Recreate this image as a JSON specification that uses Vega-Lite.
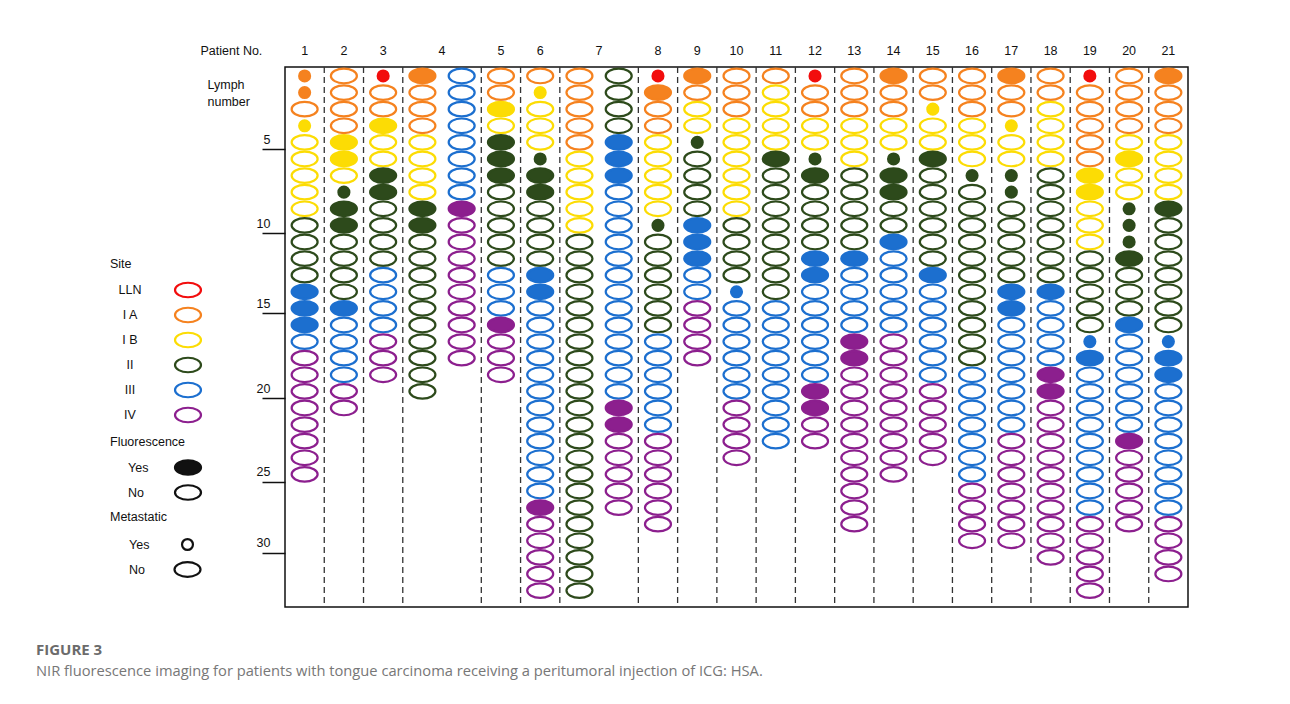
{
"$schema": "https://vega.github.io/schema/vega-lite/v6.json",
"width": 903,
"height": 540,
"autosize": {"type": "none"},
"padding": {"left": 285, "top": 67, "right": 102, "bottom": 97},
"background": "white",
"config": {"view": {"stroke": "#111", "strokeWidth": 1.5}, "font": "Liberation Sans", "axis": {"grid": false}},
"title": {"text": "FIGURE 3", "subtitle": "NIR fluorescence imaging for patients with tongue carcinoma receiving a peritumoral injection of ICG: HSA.", "orient": "bottom", "anchor": "start", "frame": "group", "dx": -249, "offset": 35, "font": "Open Sans", "fontSize": 15, "fontWeight": "bold", "color": "#6b6b6b", "subtitleFont": "Open Sans", "subtitleFontSize": 14.7, "subtitleColor": "#777777", "subtitlePadding": 6},
"datasets": {
"seps": [{"col":"2"},{"col":"3"},{"col":"4a"},{"col":"5"},{"col":"6"},{"col":"7a"},{"col":"8"},{"col":"9"},{"col":"10"},{"col":"11"},{"col":"12"},{"col":"13"},{"col":"14"},{"col":"15"},{"col":"16"},{"col":"17"},{"col":"18"},{"col":"19"},{"col":"20"},{"col":"21"}],
"nodes": [
{"col":"1","n":1,"site":"I A","fl":"Yes","met":"Y"},
{"col":"1","n":2,"site":"I A","fl":"Yes","met":"Y"},
{"col":"1","n":3,"site":"I A","fl":"No","met":"N"},
{"col":"1","n":4,"site":"I B","fl":"Yes","met":"Y"},
{"col":"1","n":5,"site":"I B","fl":"No","met":"N"},
{"col":"1","n":6,"site":"I B","fl":"No","met":"N"},
{"col":"1","n":7,"site":"I B","fl":"No","met":"N"},
{"col":"1","n":8,"site":"I B","fl":"No","met":"N"},
{"col":"1","n":9,"site":"I B","fl":"No","met":"N"},
{"col":"1","n":10,"site":"II","fl":"No","met":"N"},
{"col":"1","n":11,"site":"II","fl":"No","met":"N"},
{"col":"1","n":12,"site":"II","fl":"No","met":"N"},
{"col":"1","n":13,"site":"II","fl":"No","met":"N"},
{"col":"1","n":14,"site":"III","fl":"Yes","met":"N"},
{"col":"1","n":15,"site":"III","fl":"Yes","met":"N"},
{"col":"1","n":16,"site":"III","fl":"Yes","met":"N"},
{"col":"1","n":17,"site":"III","fl":"No","met":"N"},
{"col":"1","n":18,"site":"IV","fl":"No","met":"N"},
{"col":"1","n":19,"site":"IV","fl":"No","met":"N"},
{"col":"1","n":20,"site":"IV","fl":"No","met":"N"},
{"col":"1","n":21,"site":"IV","fl":"No","met":"N"},
{"col":"1","n":22,"site":"IV","fl":"No","met":"N"},
{"col":"1","n":23,"site":"IV","fl":"No","met":"N"},
{"col":"1","n":24,"site":"IV","fl":"No","met":"N"},
{"col":"1","n":25,"site":"IV","fl":"No","met":"N"},
{"col":"2","n":1,"site":"I A","fl":"No","met":"N"},
{"col":"2","n":2,"site":"I A","fl":"No","met":"N"},
{"col":"2","n":3,"site":"I A","fl":"No","met":"N"},
{"col":"2","n":4,"site":"I A","fl":"No","met":"N"},
{"col":"2","n":5,"site":"I B","fl":"Yes","met":"N"},
{"col":"2","n":6,"site":"I B","fl":"Yes","met":"N"},
{"col":"2","n":7,"site":"I B","fl":"No","met":"N"},
{"col":"2","n":8,"site":"II","fl":"Yes","met":"Y"},
{"col":"2","n":9,"site":"II","fl":"Yes","met":"N"},
{"col":"2","n":10,"site":"II","fl":"Yes","met":"N"},
{"col":"2","n":11,"site":"II","fl":"No","met":"N"},
{"col":"2","n":12,"site":"II","fl":"No","met":"N"},
{"col":"2","n":13,"site":"II","fl":"No","met":"N"},
{"col":"2","n":14,"site":"II","fl":"No","met":"N"},
{"col":"2","n":15,"site":"III","fl":"Yes","met":"N"},
{"col":"2","n":16,"site":"III","fl":"No","met":"N"},
{"col":"2","n":17,"site":"III","fl":"No","met":"N"},
{"col":"2","n":18,"site":"III","fl":"No","met":"N"},
{"col":"2","n":19,"site":"III","fl":"No","met":"N"},
{"col":"2","n":20,"site":"IV","fl":"No","met":"N"},
{"col":"2","n":21,"site":"IV","fl":"No","met":"N"},
{"col":"3","n":1,"site":"LLN","fl":"Yes","met":"Y"},
{"col":"3","n":2,"site":"I A","fl":"No","met":"N"},
{"col":"3","n":3,"site":"I A","fl":"No","met":"N"},
{"col":"3","n":4,"site":"I B","fl":"Yes","met":"N"},
{"col":"3","n":5,"site":"I B","fl":"No","met":"N"},
{"col":"3","n":6,"site":"I B","fl":"No","met":"N"},
{"col":"3","n":7,"site":"II","fl":"Yes","met":"N"},
{"col":"3","n":8,"site":"II","fl":"Yes","met":"N"},
{"col":"3","n":9,"site":"II","fl":"No","met":"N"},
{"col":"3","n":10,"site":"II","fl":"No","met":"N"},
{"col":"3","n":11,"site":"II","fl":"No","met":"N"},
{"col":"3","n":12,"site":"II","fl":"No","met":"N"},
{"col":"3","n":13,"site":"III","fl":"No","met":"N"},
{"col":"3","n":14,"site":"III","fl":"No","met":"N"},
{"col":"3","n":15,"site":"III","fl":"No","met":"N"},
{"col":"3","n":16,"site":"III","fl":"No","met":"N"},
{"col":"3","n":17,"site":"IV","fl":"No","met":"N"},
{"col":"3","n":18,"site":"IV","fl":"No","met":"N"},
{"col":"3","n":19,"site":"IV","fl":"No","met":"N"},
{"col":"4a","n":1,"site":"I A","fl":"Yes","met":"N"},
{"col":"4a","n":2,"site":"I A","fl":"No","met":"N"},
{"col":"4a","n":3,"site":"I A","fl":"No","met":"N"},
{"col":"4a","n":4,"site":"I A","fl":"No","met":"N"},
{"col":"4a","n":5,"site":"I B","fl":"No","met":"N"},
{"col":"4a","n":6,"site":"I B","fl":"No","met":"N"},
{"col":"4a","n":7,"site":"I B","fl":"No","met":"N"},
{"col":"4a","n":8,"site":"I B","fl":"No","met":"N"},
{"col":"4a","n":9,"site":"II","fl":"Yes","met":"N"},
{"col":"4a","n":10,"site":"II","fl":"Yes","met":"N"},
{"col":"4a","n":11,"site":"II","fl":"No","met":"N"},
{"col":"4a","n":12,"site":"II","fl":"No","met":"N"},
{"col":"4a","n":13,"site":"II","fl":"No","met":"N"},
{"col":"4a","n":14,"site":"II","fl":"No","met":"N"},
{"col":"4a","n":15,"site":"II","fl":"No","met":"N"},
{"col":"4a","n":16,"site":"II","fl":"No","met":"N"},
{"col":"4a","n":17,"site":"II","fl":"No","met":"N"},
{"col":"4a","n":18,"site":"II","fl":"No","met":"N"},
{"col":"4a","n":19,"site":"II","fl":"No","met":"N"},
{"col":"4a","n":20,"site":"II","fl":"No","met":"N"},
{"col":"4b","n":1,"site":"III","fl":"No","met":"N"},
{"col":"4b","n":2,"site":"III","fl":"No","met":"N"},
{"col":"4b","n":3,"site":"III","fl":"No","met":"N"},
{"col":"4b","n":4,"site":"III","fl":"No","met":"N"},
{"col":"4b","n":5,"site":"III","fl":"No","met":"N"},
{"col":"4b","n":6,"site":"III","fl":"No","met":"N"},
{"col":"4b","n":7,"site":"III","fl":"No","met":"N"},
{"col":"4b","n":8,"site":"III","fl":"No","met":"N"},
{"col":"4b","n":9,"site":"IV","fl":"Yes","met":"N"},
{"col":"4b","n":10,"site":"IV","fl":"No","met":"N"},
{"col":"4b","n":11,"site":"IV","fl":"No","met":"N"},
{"col":"4b","n":12,"site":"IV","fl":"No","met":"N"},
{"col":"4b","n":13,"site":"IV","fl":"No","met":"N"},
{"col":"4b","n":14,"site":"IV","fl":"No","met":"N"},
{"col":"4b","n":15,"site":"IV","fl":"No","met":"N"},
{"col":"4b","n":16,"site":"IV","fl":"No","met":"N"},
{"col":"4b","n":17,"site":"IV","fl":"No","met":"N"},
{"col":"4b","n":18,"site":"IV","fl":"No","met":"N"},
{"col":"5","n":1,"site":"I A","fl":"No","met":"N"},
{"col":"5","n":2,"site":"I A","fl":"No","met":"N"},
{"col":"5","n":3,"site":"I B","fl":"Yes","met":"N"},
{"col":"5","n":4,"site":"I B","fl":"No","met":"N"},
{"col":"5","n":5,"site":"II","fl":"Yes","met":"N"},
{"col":"5","n":6,"site":"II","fl":"Yes","met":"N"},
{"col":"5","n":7,"site":"II","fl":"Yes","met":"N"},
{"col":"5","n":8,"site":"II","fl":"No","met":"N"},
{"col":"5","n":9,"site":"II","fl":"No","met":"N"},
{"col":"5","n":10,"site":"II","fl":"No","met":"N"},
{"col":"5","n":11,"site":"II","fl":"No","met":"N"},
{"col":"5","n":12,"site":"II","fl":"No","met":"N"},
{"col":"5","n":13,"site":"III","fl":"No","met":"N"},
{"col":"5","n":14,"site":"III","fl":"No","met":"N"},
{"col":"5","n":15,"site":"III","fl":"No","met":"N"},
{"col":"5","n":16,"site":"IV","fl":"Yes","met":"N"},
{"col":"5","n":17,"site":"IV","fl":"No","met":"N"},
{"col":"5","n":18,"site":"IV","fl":"No","met":"N"},
{"col":"5","n":19,"site":"IV","fl":"No","met":"N"},
{"col":"6","n":1,"site":"I A","fl":"No","met":"N"},
{"col":"6","n":2,"site":"I B","fl":"Yes","met":"Y"},
{"col":"6","n":3,"site":"I B","fl":"No","met":"N"},
{"col":"6","n":4,"site":"I B","fl":"No","met":"N"},
{"col":"6","n":5,"site":"I B","fl":"No","met":"N"},
{"col":"6","n":6,"site":"II","fl":"Yes","met":"Y"},
{"col":"6","n":7,"site":"II","fl":"Yes","met":"N"},
{"col":"6","n":8,"site":"II","fl":"Yes","met":"N"},
{"col":"6","n":9,"site":"II","fl":"No","met":"N"},
{"col":"6","n":10,"site":"II","fl":"No","met":"N"},
{"col":"6","n":11,"site":"II","fl":"No","met":"N"},
{"col":"6","n":12,"site":"II","fl":"No","met":"N"},
{"col":"6","n":13,"site":"III","fl":"Yes","met":"N"},
{"col":"6","n":14,"site":"III","fl":"Yes","met":"N"},
{"col":"6","n":15,"site":"III","fl":"No","met":"N"},
{"col":"6","n":16,"site":"III","fl":"No","met":"N"},
{"col":"6","n":17,"site":"III","fl":"No","met":"N"},
{"col":"6","n":18,"site":"III","fl":"No","met":"N"},
{"col":"6","n":19,"site":"III","fl":"No","met":"N"},
{"col":"6","n":20,"site":"III","fl":"No","met":"N"},
{"col":"6","n":21,"site":"III","fl":"No","met":"N"},
{"col":"6","n":22,"site":"III","fl":"No","met":"N"},
{"col":"6","n":23,"site":"III","fl":"No","met":"N"},
{"col":"6","n":24,"site":"III","fl":"No","met":"N"},
{"col":"6","n":25,"site":"III","fl":"No","met":"N"},
{"col":"6","n":26,"site":"III","fl":"No","met":"N"},
{"col":"6","n":27,"site":"IV","fl":"Yes","met":"N"},
{"col":"6","n":28,"site":"IV","fl":"No","met":"N"},
{"col":"6","n":29,"site":"IV","fl":"No","met":"N"},
{"col":"6","n":30,"site":"IV","fl":"No","met":"N"},
{"col":"6","n":31,"site":"IV","fl":"No","met":"N"},
{"col":"6","n":32,"site":"IV","fl":"No","met":"N"},
{"col":"7a","n":1,"site":"I A","fl":"No","met":"N"},
{"col":"7a","n":2,"site":"I A","fl":"No","met":"N"},
{"col":"7a","n":3,"site":"I A","fl":"No","met":"N"},
{"col":"7a","n":4,"site":"I A","fl":"No","met":"N"},
{"col":"7a","n":5,"site":"I A","fl":"No","met":"N"},
{"col":"7a","n":6,"site":"I B","fl":"No","met":"N"},
{"col":"7a","n":7,"site":"I B","fl":"No","met":"N"},
{"col":"7a","n":8,"site":"I B","fl":"No","met":"N"},
{"col":"7a","n":9,"site":"I B","fl":"No","met":"N"},
{"col":"7a","n":10,"site":"I B","fl":"No","met":"N"},
{"col":"7a","n":11,"site":"II","fl":"No","met":"N"},
{"col":"7a","n":12,"site":"II","fl":"No","met":"N"},
{"col":"7a","n":13,"site":"II","fl":"No","met":"N"},
{"col":"7a","n":14,"site":"II","fl":"No","met":"N"},
{"col":"7a","n":15,"site":"II","fl":"No","met":"N"},
{"col":"7a","n":16,"site":"II","fl":"No","met":"N"},
{"col":"7a","n":17,"site":"II","fl":"No","met":"N"},
{"col":"7a","n":18,"site":"II","fl":"No","met":"N"},
{"col":"7a","n":19,"site":"II","fl":"No","met":"N"},
{"col":"7a","n":20,"site":"II","fl":"No","met":"N"},
{"col":"7a","n":21,"site":"II","fl":"No","met":"N"},
{"col":"7a","n":22,"site":"II","fl":"No","met":"N"},
{"col":"7a","n":23,"site":"II","fl":"No","met":"N"},
{"col":"7a","n":24,"site":"II","fl":"No","met":"N"},
{"col":"7a","n":25,"site":"II","fl":"No","met":"N"},
{"col":"7a","n":26,"site":"II","fl":"No","met":"N"},
{"col":"7a","n":27,"site":"II","fl":"No","met":"N"},
{"col":"7a","n":28,"site":"II","fl":"No","met":"N"},
{"col":"7a","n":29,"site":"II","fl":"No","met":"N"},
{"col":"7a","n":30,"site":"II","fl":"No","met":"N"},
{"col":"7a","n":31,"site":"II","fl":"No","met":"N"},
{"col":"7a","n":32,"site":"II","fl":"No","met":"N"},
{"col":"7b","n":1,"site":"II","fl":"No","met":"N"},
{"col":"7b","n":2,"site":"II","fl":"No","met":"N"},
{"col":"7b","n":3,"site":"II","fl":"No","met":"N"},
{"col":"7b","n":4,"site":"II","fl":"No","met":"N"},
{"col":"7b","n":5,"site":"III","fl":"Yes","met":"N"},
{"col":"7b","n":6,"site":"III","fl":"Yes","met":"N"},
{"col":"7b","n":7,"site":"III","fl":"Yes","met":"N"},
{"col":"7b","n":8,"site":"III","fl":"No","met":"N"},
{"col":"7b","n":9,"site":"III","fl":"No","met":"N"},
{"col":"7b","n":10,"site":"III","fl":"No","met":"N"},
{"col":"7b","n":11,"site":"III","fl":"No","met":"N"},
{"col":"7b","n":12,"site":"III","fl":"No","met":"N"},
{"col":"7b","n":13,"site":"III","fl":"No","met":"N"},
{"col":"7b","n":14,"site":"III","fl":"No","met":"N"},
{"col":"7b","n":15,"site":"III","fl":"No","met":"N"},
{"col":"7b","n":16,"site":"III","fl":"No","met":"N"},
{"col":"7b","n":17,"site":"III","fl":"No","met":"N"},
{"col":"7b","n":18,"site":"III","fl":"No","met":"N"},
{"col":"7b","n":19,"site":"III","fl":"No","met":"N"},
{"col":"7b","n":20,"site":"III","fl":"No","met":"N"},
{"col":"7b","n":21,"site":"IV","fl":"Yes","met":"N"},
{"col":"7b","n":22,"site":"IV","fl":"Yes","met":"N"},
{"col":"7b","n":23,"site":"IV","fl":"No","met":"N"},
{"col":"7b","n":24,"site":"IV","fl":"No","met":"N"},
{"col":"7b","n":25,"site":"IV","fl":"No","met":"N"},
{"col":"7b","n":26,"site":"IV","fl":"No","met":"N"},
{"col":"7b","n":27,"site":"IV","fl":"No","met":"N"},
{"col":"8","n":1,"site":"LLN","fl":"Yes","met":"Y"},
{"col":"8","n":2,"site":"I A","fl":"Yes","met":"N"},
{"col":"8","n":3,"site":"I A","fl":"No","met":"N"},
{"col":"8","n":4,"site":"I A","fl":"No","met":"N"},
{"col":"8","n":5,"site":"I B","fl":"No","met":"N"},
{"col":"8","n":6,"site":"I B","fl":"No","met":"N"},
{"col":"8","n":7,"site":"I B","fl":"No","met":"N"},
{"col":"8","n":8,"site":"I B","fl":"No","met":"N"},
{"col":"8","n":9,"site":"I B","fl":"No","met":"N"},
{"col":"8","n":10,"site":"II","fl":"Yes","met":"Y"},
{"col":"8","n":11,"site":"II","fl":"No","met":"N"},
{"col":"8","n":12,"site":"II","fl":"No","met":"N"},
{"col":"8","n":13,"site":"II","fl":"No","met":"N"},
{"col":"8","n":14,"site":"II","fl":"No","met":"N"},
{"col":"8","n":15,"site":"II","fl":"No","met":"N"},
{"col":"8","n":16,"site":"II","fl":"No","met":"N"},
{"col":"8","n":17,"site":"III","fl":"No","met":"N"},
{"col":"8","n":18,"site":"III","fl":"No","met":"N"},
{"col":"8","n":19,"site":"III","fl":"No","met":"N"},
{"col":"8","n":20,"site":"III","fl":"No","met":"N"},
{"col":"8","n":21,"site":"III","fl":"No","met":"N"},
{"col":"8","n":22,"site":"III","fl":"No","met":"N"},
{"col":"8","n":23,"site":"IV","fl":"No","met":"N"},
{"col":"8","n":24,"site":"IV","fl":"No","met":"N"},
{"col":"8","n":25,"site":"IV","fl":"No","met":"N"},
{"col":"8","n":26,"site":"IV","fl":"No","met":"N"},
{"col":"8","n":27,"site":"IV","fl":"No","met":"N"},
{"col":"8","n":28,"site":"IV","fl":"No","met":"N"},
{"col":"9","n":1,"site":"I A","fl":"Yes","met":"N"},
{"col":"9","n":2,"site":"I A","fl":"No","met":"N"},
{"col":"9","n":3,"site":"I B","fl":"No","met":"N"},
{"col":"9","n":4,"site":"I B","fl":"No","met":"N"},
{"col":"9","n":5,"site":"II","fl":"Yes","met":"Y"},
{"col":"9","n":6,"site":"II","fl":"No","met":"N"},
{"col":"9","n":7,"site":"II","fl":"No","met":"N"},
{"col":"9","n":8,"site":"II","fl":"No","met":"N"},
{"col":"9","n":9,"site":"II","fl":"No","met":"N"},
{"col":"9","n":10,"site":"III","fl":"Yes","met":"N"},
{"col":"9","n":11,"site":"III","fl":"Yes","met":"N"},
{"col":"9","n":12,"site":"III","fl":"Yes","met":"N"},
{"col":"9","n":13,"site":"III","fl":"No","met":"N"},
{"col":"9","n":14,"site":"III","fl":"No","met":"N"},
{"col":"9","n":15,"site":"IV","fl":"No","met":"N"},
{"col":"9","n":16,"site":"IV","fl":"No","met":"N"},
{"col":"9","n":17,"site":"IV","fl":"No","met":"N"},
{"col":"9","n":18,"site":"IV","fl":"No","met":"N"},
{"col":"10","n":1,"site":"I A","fl":"No","met":"N"},
{"col":"10","n":2,"site":"I A","fl":"No","met":"N"},
{"col":"10","n":3,"site":"I A","fl":"No","met":"N"},
{"col":"10","n":4,"site":"I B","fl":"No","met":"N"},
{"col":"10","n":5,"site":"I B","fl":"No","met":"N"},
{"col":"10","n":6,"site":"I B","fl":"No","met":"N"},
{"col":"10","n":7,"site":"I B","fl":"No","met":"N"},
{"col":"10","n":8,"site":"I B","fl":"No","met":"N"},
{"col":"10","n":9,"site":"I B","fl":"No","met":"N"},
{"col":"10","n":10,"site":"II","fl":"No","met":"N"},
{"col":"10","n":11,"site":"II","fl":"No","met":"N"},
{"col":"10","n":12,"site":"II","fl":"No","met":"N"},
{"col":"10","n":13,"site":"II","fl":"No","met":"N"},
{"col":"10","n":14,"site":"III","fl":"Yes","met":"Y"},
{"col":"10","n":15,"site":"III","fl":"No","met":"N"},
{"col":"10","n":16,"site":"III","fl":"No","met":"N"},
{"col":"10","n":17,"site":"III","fl":"No","met":"N"},
{"col":"10","n":18,"site":"III","fl":"No","met":"N"},
{"col":"10","n":19,"site":"III","fl":"No","met":"N"},
{"col":"10","n":20,"site":"III","fl":"No","met":"N"},
{"col":"10","n":21,"site":"IV","fl":"No","met":"N"},
{"col":"10","n":22,"site":"IV","fl":"No","met":"N"},
{"col":"10","n":23,"site":"IV","fl":"No","met":"N"},
{"col":"10","n":24,"site":"IV","fl":"No","met":"N"},
{"col":"11","n":1,"site":"I A","fl":"No","met":"N"},
{"col":"11","n":2,"site":"I B","fl":"No","met":"N"},
{"col":"11","n":3,"site":"I B","fl":"No","met":"N"},
{"col":"11","n":4,"site":"I B","fl":"No","met":"N"},
{"col":"11","n":5,"site":"I B","fl":"No","met":"N"},
{"col":"11","n":6,"site":"II","fl":"Yes","met":"N"},
{"col":"11","n":7,"site":"II","fl":"No","met":"N"},
{"col":"11","n":8,"site":"II","fl":"No","met":"N"},
{"col":"11","n":9,"site":"II","fl":"No","met":"N"},
{"col":"11","n":10,"site":"II","fl":"No","met":"N"},
{"col":"11","n":11,"site":"II","fl":"No","met":"N"},
{"col":"11","n":12,"site":"II","fl":"No","met":"N"},
{"col":"11","n":13,"site":"II","fl":"No","met":"N"},
{"col":"11","n":14,"site":"II","fl":"No","met":"N"},
{"col":"11","n":15,"site":"III","fl":"No","met":"N"},
{"col":"11","n":16,"site":"III","fl":"No","met":"N"},
{"col":"11","n":17,"site":"III","fl":"No","met":"N"},
{"col":"11","n":18,"site":"III","fl":"No","met":"N"},
{"col":"11","n":19,"site":"III","fl":"No","met":"N"},
{"col":"11","n":20,"site":"III","fl":"No","met":"N"},
{"col":"11","n":21,"site":"III","fl":"No","met":"N"},
{"col":"11","n":22,"site":"III","fl":"No","met":"N"},
{"col":"11","n":23,"site":"III","fl":"No","met":"N"},
{"col":"12","n":1,"site":"LLN","fl":"Yes","met":"Y"},
{"col":"12","n":2,"site":"I A","fl":"No","met":"N"},
{"col":"12","n":3,"site":"I A","fl":"No","met":"N"},
{"col":"12","n":4,"site":"I B","fl":"No","met":"N"},
{"col":"12","n":5,"site":"I B","fl":"No","met":"N"},
{"col":"12","n":6,"site":"II","fl":"Yes","met":"Y"},
{"col":"12","n":7,"site":"II","fl":"Yes","met":"N"},
{"col":"12","n":8,"site":"II","fl":"No","met":"N"},
{"col":"12","n":9,"site":"II","fl":"No","met":"N"},
{"col":"12","n":10,"site":"II","fl":"No","met":"N"},
{"col":"12","n":11,"site":"II","fl":"No","met":"N"},
{"col":"12","n":12,"site":"III","fl":"Yes","met":"N"},
{"col":"12","n":13,"site":"III","fl":"Yes","met":"N"},
{"col":"12","n":14,"site":"III","fl":"No","met":"N"},
{"col":"12","n":15,"site":"III","fl":"No","met":"N"},
{"col":"12","n":16,"site":"III","fl":"No","met":"N"},
{"col":"12","n":17,"site":"III","fl":"No","met":"N"},
{"col":"12","n":18,"site":"III","fl":"No","met":"N"},
{"col":"12","n":19,"site":"III","fl":"No","met":"N"},
{"col":"12","n":20,"site":"IV","fl":"Yes","met":"N"},
{"col":"12","n":21,"site":"IV","fl":"Yes","met":"N"},
{"col":"12","n":22,"site":"IV","fl":"No","met":"N"},
{"col":"12","n":23,"site":"IV","fl":"No","met":"N"},
{"col":"13","n":1,"site":"I A","fl":"No","met":"N"},
{"col":"13","n":2,"site":"I A","fl":"No","met":"N"},
{"col":"13","n":3,"site":"I A","fl":"No","met":"N"},
{"col":"13","n":4,"site":"I B","fl":"No","met":"N"},
{"col":"13","n":5,"site":"I B","fl":"No","met":"N"},
{"col":"13","n":6,"site":"I B","fl":"No","met":"N"},
{"col":"13","n":7,"site":"II","fl":"No","met":"N"},
{"col":"13","n":8,"site":"II","fl":"No","met":"N"},
{"col":"13","n":9,"site":"II","fl":"No","met":"N"},
{"col":"13","n":10,"site":"II","fl":"No","met":"N"},
{"col":"13","n":11,"site":"II","fl":"No","met":"N"},
{"col":"13","n":12,"site":"III","fl":"Yes","met":"N"},
{"col":"13","n":13,"site":"III","fl":"No","met":"N"},
{"col":"13","n":14,"site":"III","fl":"No","met":"N"},
{"col":"13","n":15,"site":"III","fl":"No","met":"N"},
{"col":"13","n":16,"site":"III","fl":"No","met":"N"},
{"col":"13","n":17,"site":"IV","fl":"Yes","met":"N"},
{"col":"13","n":18,"site":"IV","fl":"Yes","met":"N"},
{"col":"13","n":19,"site":"IV","fl":"No","met":"N"},
{"col":"13","n":20,"site":"IV","fl":"No","met":"N"},
{"col":"13","n":21,"site":"IV","fl":"No","met":"N"},
{"col":"13","n":22,"site":"IV","fl":"No","met":"N"},
{"col":"13","n":23,"site":"IV","fl":"No","met":"N"},
{"col":"13","n":24,"site":"IV","fl":"No","met":"N"},
{"col":"13","n":25,"site":"IV","fl":"No","met":"N"},
{"col":"13","n":26,"site":"IV","fl":"No","met":"N"},
{"col":"13","n":27,"site":"IV","fl":"No","met":"N"},
{"col":"13","n":28,"site":"IV","fl":"No","met":"N"},
{"col":"14","n":1,"site":"I A","fl":"Yes","met":"N"},
{"col":"14","n":2,"site":"I A","fl":"No","met":"N"},
{"col":"14","n":3,"site":"I A","fl":"No","met":"N"},
{"col":"14","n":4,"site":"I B","fl":"No","met":"N"},
{"col":"14","n":5,"site":"I B","fl":"No","met":"N"},
{"col":"14","n":6,"site":"II","fl":"Yes","met":"Y"},
{"col":"14","n":7,"site":"II","fl":"Yes","met":"N"},
{"col":"14","n":8,"site":"II","fl":"Yes","met":"N"},
{"col":"14","n":9,"site":"II","fl":"No","met":"N"},
{"col":"14","n":10,"site":"II","fl":"No","met":"N"},
{"col":"14","n":11,"site":"III","fl":"Yes","met":"N"},
{"col":"14","n":12,"site":"III","fl":"No","met":"N"},
{"col":"14","n":13,"site":"III","fl":"No","met":"N"},
{"col":"14","n":14,"site":"III","fl":"No","met":"N"},
{"col":"14","n":15,"site":"III","fl":"No","met":"N"},
{"col":"14","n":16,"site":"III","fl":"No","met":"N"},
{"col":"14","n":17,"site":"IV","fl":"No","met":"N"},
{"col":"14","n":18,"site":"IV","fl":"No","met":"N"},
{"col":"14","n":19,"site":"IV","fl":"No","met":"N"},
{"col":"14","n":20,"site":"IV","fl":"No","met":"N"},
{"col":"14","n":21,"site":"IV","fl":"No","met":"N"},
{"col":"14","n":22,"site":"IV","fl":"No","met":"N"},
{"col":"14","n":23,"site":"IV","fl":"No","met":"N"},
{"col":"14","n":24,"site":"IV","fl":"No","met":"N"},
{"col":"14","n":25,"site":"IV","fl":"No","met":"N"},
{"col":"15","n":1,"site":"I A","fl":"No","met":"N"},
{"col":"15","n":2,"site":"I A","fl":"No","met":"N"},
{"col":"15","n":3,"site":"I B","fl":"Yes","met":"Y"},
{"col":"15","n":4,"site":"I B","fl":"No","met":"N"},
{"col":"15","n":5,"site":"I B","fl":"No","met":"N"},
{"col":"15","n":6,"site":"II","fl":"Yes","met":"N"},
{"col":"15","n":7,"site":"II","fl":"No","met":"N"},
{"col":"15","n":8,"site":"II","fl":"No","met":"N"},
{"col":"15","n":9,"site":"II","fl":"No","met":"N"},
{"col":"15","n":10,"site":"II","fl":"No","met":"N"},
{"col":"15","n":11,"site":"II","fl":"No","met":"N"},
{"col":"15","n":12,"site":"II","fl":"No","met":"N"},
{"col":"15","n":13,"site":"III","fl":"Yes","met":"N"},
{"col":"15","n":14,"site":"III","fl":"No","met":"N"},
{"col":"15","n":15,"site":"III","fl":"No","met":"N"},
{"col":"15","n":16,"site":"III","fl":"No","met":"N"},
{"col":"15","n":17,"site":"III","fl":"No","met":"N"},
{"col":"15","n":18,"site":"III","fl":"No","met":"N"},
{"col":"15","n":19,"site":"III","fl":"No","met":"N"},
{"col":"15","n":20,"site":"IV","fl":"No","met":"N"},
{"col":"15","n":21,"site":"IV","fl":"No","met":"N"},
{"col":"15","n":22,"site":"IV","fl":"No","met":"N"},
{"col":"15","n":23,"site":"IV","fl":"No","met":"N"},
{"col":"15","n":24,"site":"IV","fl":"No","met":"N"},
{"col":"16","n":1,"site":"I A","fl":"No","met":"N"},
{"col":"16","n":2,"site":"I A","fl":"No","met":"N"},
{"col":"16","n":3,"site":"I A","fl":"No","met":"N"},
{"col":"16","n":4,"site":"I B","fl":"No","met":"N"},
{"col":"16","n":5,"site":"I B","fl":"No","met":"N"},
{"col":"16","n":6,"site":"I B","fl":"No","met":"N"},
{"col":"16","n":7,"site":"II","fl":"Yes","met":"Y"},
{"col":"16","n":8,"site":"II","fl":"No","met":"N"},
{"col":"16","n":9,"site":"II","fl":"No","met":"N"},
{"col":"16","n":10,"site":"II","fl":"No","met":"N"},
{"col":"16","n":11,"site":"II","fl":"No","met":"N"},
{"col":"16","n":12,"site":"II","fl":"No","met":"N"},
{"col":"16","n":13,"site":"II","fl":"No","met":"N"},
{"col":"16","n":14,"site":"II","fl":"No","met":"N"},
{"col":"16","n":15,"site":"II","fl":"No","met":"N"},
{"col":"16","n":16,"site":"II","fl":"No","met":"N"},
{"col":"16","n":17,"site":"II","fl":"No","met":"N"},
{"col":"16","n":18,"site":"II","fl":"No","met":"N"},
{"col":"16","n":19,"site":"III","fl":"No","met":"N"},
{"col":"16","n":20,"site":"III","fl":"No","met":"N"},
{"col":"16","n":21,"site":"III","fl":"No","met":"N"},
{"col":"16","n":22,"site":"III","fl":"No","met":"N"},
{"col":"16","n":23,"site":"III","fl":"No","met":"N"},
{"col":"16","n":24,"site":"III","fl":"No","met":"N"},
{"col":"16","n":25,"site":"III","fl":"No","met":"N"},
{"col":"16","n":26,"site":"IV","fl":"No","met":"N"},
{"col":"16","n":27,"site":"IV","fl":"No","met":"N"},
{"col":"16","n":28,"site":"IV","fl":"No","met":"N"},
{"col":"16","n":29,"site":"IV","fl":"No","met":"N"},
{"col":"17","n":1,"site":"I A","fl":"Yes","met":"N"},
{"col":"17","n":2,"site":"I A","fl":"No","met":"N"},
{"col":"17","n":3,"site":"I A","fl":"No","met":"N"},
{"col":"17","n":4,"site":"I B","fl":"Yes","met":"Y"},
{"col":"17","n":5,"site":"I B","fl":"No","met":"N"},
{"col":"17","n":6,"site":"I B","fl":"No","met":"N"},
{"col":"17","n":7,"site":"II","fl":"Yes","met":"Y"},
{"col":"17","n":8,"site":"II","fl":"Yes","met":"Y"},
{"col":"17","n":9,"site":"II","fl":"No","met":"N"},
{"col":"17","n":10,"site":"II","fl":"No","met":"N"},
{"col":"17","n":11,"site":"II","fl":"No","met":"N"},
{"col":"17","n":12,"site":"II","fl":"No","met":"N"},
{"col":"17","n":13,"site":"II","fl":"No","met":"N"},
{"col":"17","n":14,"site":"III","fl":"Yes","met":"N"},
{"col":"17","n":15,"site":"III","fl":"Yes","met":"N"},
{"col":"17","n":16,"site":"III","fl":"No","met":"N"},
{"col":"17","n":17,"site":"III","fl":"No","met":"N"},
{"col":"17","n":18,"site":"III","fl":"No","met":"N"},
{"col":"17","n":19,"site":"III","fl":"No","met":"N"},
{"col":"17","n":20,"site":"III","fl":"No","met":"N"},
{"col":"17","n":21,"site":"III","fl":"No","met":"N"},
{"col":"17","n":22,"site":"III","fl":"No","met":"N"},
{"col":"17","n":23,"site":"IV","fl":"No","met":"N"},
{"col":"17","n":24,"site":"IV","fl":"No","met":"N"},
{"col":"17","n":25,"site":"IV","fl":"No","met":"N"},
{"col":"17","n":26,"site":"IV","fl":"No","met":"N"},
{"col":"17","n":27,"site":"IV","fl":"No","met":"N"},
{"col":"17","n":28,"site":"IV","fl":"No","met":"N"},
{"col":"17","n":29,"site":"IV","fl":"No","met":"N"},
{"col":"18","n":1,"site":"I A","fl":"No","met":"N"},
{"col":"18","n":2,"site":"I A","fl":"No","met":"N"},
{"col":"18","n":3,"site":"I B","fl":"No","met":"N"},
{"col":"18","n":4,"site":"I B","fl":"No","met":"N"},
{"col":"18","n":5,"site":"I B","fl":"No","met":"N"},
{"col":"18","n":6,"site":"I B","fl":"No","met":"N"},
{"col":"18","n":7,"site":"II","fl":"No","met":"N"},
{"col":"18","n":8,"site":"II","fl":"No","met":"N"},
{"col":"18","n":9,"site":"II","fl":"No","met":"N"},
{"col":"18","n":10,"site":"II","fl":"No","met":"N"},
{"col":"18","n":11,"site":"II","fl":"No","met":"N"},
{"col":"18","n":12,"site":"II","fl":"No","met":"N"},
{"col":"18","n":13,"site":"II","fl":"No","met":"N"},
{"col":"18","n":14,"site":"III","fl":"Yes","met":"N"},
{"col":"18","n":15,"site":"III","fl":"No","met":"N"},
{"col":"18","n":16,"site":"III","fl":"No","met":"N"},
{"col":"18","n":17,"site":"III","fl":"No","met":"N"},
{"col":"18","n":18,"site":"III","fl":"No","met":"N"},
{"col":"18","n":19,"site":"IV","fl":"Yes","met":"N"},
{"col":"18","n":20,"site":"IV","fl":"Yes","met":"N"},
{"col":"18","n":21,"site":"IV","fl":"No","met":"N"},
{"col":"18","n":22,"site":"IV","fl":"No","met":"N"},
{"col":"18","n":23,"site":"IV","fl":"No","met":"N"},
{"col":"18","n":24,"site":"IV","fl":"No","met":"N"},
{"col":"18","n":25,"site":"IV","fl":"No","met":"N"},
{"col":"18","n":26,"site":"IV","fl":"No","met":"N"},
{"col":"18","n":27,"site":"IV","fl":"No","met":"N"},
{"col":"18","n":28,"site":"IV","fl":"No","met":"N"},
{"col":"18","n":29,"site":"IV","fl":"No","met":"N"},
{"col":"18","n":30,"site":"IV","fl":"No","met":"N"},
{"col":"19","n":1,"site":"LLN","fl":"Yes","met":"Y"},
{"col":"19","n":2,"site":"I A","fl":"No","met":"N"},
{"col":"19","n":3,"site":"I A","fl":"No","met":"N"},
{"col":"19","n":4,"site":"I A","fl":"No","met":"N"},
{"col":"19","n":5,"site":"I A","fl":"No","met":"N"},
{"col":"19","n":6,"site":"I A","fl":"No","met":"N"},
{"col":"19","n":7,"site":"I B","fl":"Yes","met":"N"},
{"col":"19","n":8,"site":"I B","fl":"Yes","met":"N"},
{"col":"19","n":9,"site":"I B","fl":"No","met":"N"},
{"col":"19","n":10,"site":"I B","fl":"No","met":"N"},
{"col":"19","n":11,"site":"I B","fl":"No","met":"N"},
{"col":"19","n":12,"site":"II","fl":"No","met":"N"},
{"col":"19","n":13,"site":"II","fl":"No","met":"N"},
{"col":"19","n":14,"site":"II","fl":"No","met":"N"},
{"col":"19","n":15,"site":"II","fl":"No","met":"N"},
{"col":"19","n":16,"site":"II","fl":"No","met":"N"},
{"col":"19","n":17,"site":"III","fl":"Yes","met":"Y"},
{"col":"19","n":18,"site":"III","fl":"Yes","met":"N"},
{"col":"19","n":19,"site":"III","fl":"No","met":"N"},
{"col":"19","n":20,"site":"III","fl":"No","met":"N"},
{"col":"19","n":21,"site":"III","fl":"No","met":"N"},
{"col":"19","n":22,"site":"III","fl":"No","met":"N"},
{"col":"19","n":23,"site":"III","fl":"No","met":"N"},
{"col":"19","n":24,"site":"III","fl":"No","met":"N"},
{"col":"19","n":25,"site":"III","fl":"No","met":"N"},
{"col":"19","n":26,"site":"III","fl":"No","met":"N"},
{"col":"19","n":27,"site":"III","fl":"No","met":"N"},
{"col":"19","n":28,"site":"IV","fl":"No","met":"N"},
{"col":"19","n":29,"site":"IV","fl":"No","met":"N"},
{"col":"19","n":30,"site":"IV","fl":"No","met":"N"},
{"col":"19","n":31,"site":"IV","fl":"No","met":"N"},
{"col":"19","n":32,"site":"IV","fl":"No","met":"N"},
{"col":"20","n":1,"site":"I A","fl":"No","met":"N"},
{"col":"20","n":2,"site":"I A","fl":"No","met":"N"},
{"col":"20","n":3,"site":"I A","fl":"No","met":"N"},
{"col":"20","n":4,"site":"I A","fl":"No","met":"N"},
{"col":"20","n":5,"site":"I B","fl":"No","met":"N"},
{"col":"20","n":6,"site":"I B","fl":"Yes","met":"N"},
{"col":"20","n":7,"site":"I B","fl":"No","met":"N"},
{"col":"20","n":8,"site":"I B","fl":"No","met":"N"},
{"col":"20","n":9,"site":"II","fl":"Yes","met":"Y"},
{"col":"20","n":10,"site":"II","fl":"Yes","met":"Y"},
{"col":"20","n":11,"site":"II","fl":"Yes","met":"Y"},
{"col":"20","n":12,"site":"II","fl":"Yes","met":"N"},
{"col":"20","n":13,"site":"II","fl":"No","met":"N"},
{"col":"20","n":14,"site":"II","fl":"No","met":"N"},
{"col":"20","n":15,"site":"II","fl":"No","met":"N"},
{"col":"20","n":16,"site":"III","fl":"Yes","met":"N"},
{"col":"20","n":17,"site":"III","fl":"No","met":"N"},
{"col":"20","n":18,"site":"III","fl":"No","met":"N"},
{"col":"20","n":19,"site":"III","fl":"No","met":"N"},
{"col":"20","n":20,"site":"III","fl":"No","met":"N"},
{"col":"20","n":21,"site":"III","fl":"No","met":"N"},
{"col":"20","n":22,"site":"III","fl":"No","met":"N"},
{"col":"20","n":23,"site":"IV","fl":"Yes","met":"N"},
{"col":"20","n":24,"site":"IV","fl":"No","met":"N"},
{"col":"20","n":25,"site":"IV","fl":"No","met":"N"},
{"col":"20","n":26,"site":"IV","fl":"No","met":"N"},
{"col":"20","n":27,"site":"IV","fl":"No","met":"N"},
{"col":"20","n":28,"site":"IV","fl":"No","met":"N"},
{"col":"21","n":1,"site":"I A","fl":"Yes","met":"N"},
{"col":"21","n":2,"site":"I A","fl":"No","met":"N"},
{"col":"21","n":3,"site":"I A","fl":"No","met":"N"},
{"col":"21","n":4,"site":"I A","fl":"No","met":"N"},
{"col":"21","n":5,"site":"I B","fl":"No","met":"N"},
{"col":"21","n":6,"site":"I B","fl":"No","met":"N"},
{"col":"21","n":7,"site":"I B","fl":"No","met":"N"},
{"col":"21","n":8,"site":"I B","fl":"No","met":"N"},
{"col":"21","n":9,"site":"II","fl":"Yes","met":"N"},
{"col":"21","n":10,"site":"II","fl":"No","met":"N"},
{"col":"21","n":11,"site":"II","fl":"No","met":"N"},
{"col":"21","n":12,"site":"II","fl":"No","met":"N"},
{"col":"21","n":13,"site":"II","fl":"No","met":"N"},
{"col":"21","n":14,"site":"II","fl":"No","met":"N"},
{"col":"21","n":15,"site":"II","fl":"No","met":"N"},
{"col":"21","n":16,"site":"II","fl":"No","met":"N"},
{"col":"21","n":17,"site":"III","fl":"Yes","met":"Y"},
{"col":"21","n":18,"site":"III","fl":"Yes","met":"N"},
{"col":"21","n":19,"site":"III","fl":"Yes","met":"N"},
{"col":"21","n":20,"site":"III","fl":"No","met":"N"},
{"col":"21","n":21,"site":"III","fl":"No","met":"N"},
{"col":"21","n":22,"site":"III","fl":"No","met":"N"},
{"col":"21","n":23,"site":"III","fl":"No","met":"N"},
{"col":"21","n":24,"site":"III","fl":"No","met":"N"},
{"col":"21","n":25,"site":"III","fl":"No","met":"N"},
{"col":"21","n":26,"site":"III","fl":"No","met":"N"},
{"col":"21","n":27,"site":"III","fl":"No","met":"N"},
{"col":"21","n":28,"site":"IV","fl":"No","met":"N"},
{"col":"21","n":29,"site":"IV","fl":"No","met":"N"},
{"col":"21","n":30,"site":"IV","fl":"No","met":"N"},
{"col":"21","n":31,"site":"IV","fl":"No","met":"N"}
]
},
"layer": [
{
"data": {"name": "seps"},
"mark": {"type": "rule", "strokeDash": [6, 4], "color": "#333333", "strokeWidth": 1.3},
"encoding": {
"x": {"field": "col", "type": "nominal", "bandPosition": 0, "scale": {"domain": ["1","2","3","4a","4b","5","6","7a","7b","8","9","10","11","12","13","14","15","16","17","18","19","20","21"], "paddingInner": 0, "paddingOuter": 0},
"axis": {"orient": "top", "title": "Patient No.", "titleFont": "Liberation Sans", "titleFontSize": 12.5, "titleFontWeight": "normal", "titleColor": "#111111", "titleAngle": 0, "titleAlign": "left", "titleBaseline": "middle", "titleX": -85, "titleY": -17, "labelAngle": 0, "labelFont": "Liberation Sans", "labelFontSize": 12.5, "labelColor": "#111111", "labelPadding": 10, "ticks": false, "tickSize": 0, "domain": false,
"labelExpr": "datum.value === '4a' ? '4' : datum.value === '7a' ? '7' : (datum.value === '4b' || datum.value === '7b') ? '' : datum.value",
"labelOffset": {"condition": {"test": "datum.value === '4a' || datum.value === '7a'", "value": 19.6}, "value": 0}}}
}
},
{
"data": {"name": "nodes"},
"mark": {"type": "point", "opacity": 1, "strokeWidth": 2.2, "size": 676},
"encoding": {
"x": {"field": "col", "type": "nominal", "scale": {"domain": ["1","2","3","4a","4b","5","6","7a","7b","8","9","10","11","12","13","14","15","16","17","18","19","20","21"], "paddingInner": 0, "paddingOuter": 0},
"axis": {"orient": "top", "title": "Patient No.", "titleFont": "Liberation Sans", "titleFontSize": 12.5, "titleFontWeight": "normal", "titleColor": "#111111", "titleAngle": 0, "titleAlign": "left", "titleBaseline": "middle", "titleX": -85, "titleY": -17, "labelAngle": 0, "labelFont": "Liberation Sans", "labelFontSize": 12.5, "labelColor": "#111111", "labelPadding": 10, "ticks": false, "tickSize": 0, "domain": false,
"labelExpr": "datum.value === '4a' ? '4' : datum.value === '7a' ? '7' : (datum.value === '4b' || datum.value === '7b') ? '' : datum.value",
"labelOffset": {"condition": {"test": "datum.value === '4a' || datum.value === '7a'", "value": 19.6}, "value": 0}}},
"y": {"field": "n", "type": "quantitative", "scale": {"domain": [0.46, 32.99], "reverse": true, "nice": false, "zero": false},
"axis": {"values": [5.4, 10.46, 15.28, 20.4, 25.45, 29.73], "labelExpr": "format(round(datum.value), 'd')", "domain": false, "tickSize": 23, "tickWidth": 1.5, "tickColor": "#111111", "labelAlign": "right", "labelBaseline": "bottom", "labelPadding": -8, "labelOffset": -3, "labelFont": "Liberation Sans", "labelFontSize": 12.5, "labelColor": "#111111", "title": ["Lymph", "number"], "titleAngle": 0, "titleAlign": "left", "titleBaseline": "top", "titleX": -78, "titleY": 11, "titleFont": "Liberation Sans", "titleFontWeight": "normal", "titleFontSize": 12.5, "titleColor": "#111111", "titleLineHeight": 17}},
"stroke": {"field": "site", "type": "nominal", "scale": {"domain": ["LLN","I A","I B","II","III","IV"], "range": ["#f20d0d","#f5821f","#fcdc04","#2d4a1b","#1c6fcf","#8c1f8e"]},
"legend": {"title": "Site", "orient": "none", "legendX": -175, "legendY": 191, "padding": 0, "symbolType": "M-1.111,0A1.111,0.62 0 1,1 1.111,0A1.111,0.62 0 1,1 -1.111,0Z", "symbolSize": 548, "symbolStrokeWidth": 2.2, "symbolFillColor": "transparent", "symbolOpacity": 1, "symbolOffset": 65, "labelAlign": "center", "labelOffset": -71, "rowPadding": 0, "titlePadding": 6.5, "titleFont": "Liberation Sans", "titleFontSize": 12.5, "titleFontWeight": "normal", "titleColor": "#111111", "labelFont": "Liberation Sans", "labelFontSize": 12.5, "labelColor": "#111111"}},
"fill": {"field": "site", "type": "nominal", "scale": {"domain": ["LLN","I A","I B","II","III","IV"], "range": ["#f20d0d","#f5821f","#fcdc04","#2d4a1b","#1c6fcf","#8c1f8e"]}, "legend": null},
"fillOpacity": {"condition": {"test": "datum.fl === 'Yes'", "value": 1}, "value": 0},
"shape": {"field": "met", "type": "nominal", "scale": {"domain": ["Y", "N"], "range": ["M-0.42,0A0.42,0.42 0 1,1 0.42,0A0.42,0.42 0 1,1 -0.42,0Z", "M-1,0A1,0.56 0 1,1 1,0A1,0.56 0 1,1 -1,0Z"]},
"legend": {"title": "Metastatic", "orient": "none", "legendX": -175, "legendY": 444, "padding": 0, "labelExpr": "datum.label === 'Y' ? 'Yes' : 'No'", "symbolSize": 676, "symbolStrokeWidth": 2.2, "symbolFillColor": "transparent", "symbolStrokeColor": "#111111", "symbolOpacity": 1, "symbolOffset": 63, "labelOffset": -73, "rowPadding": -1, "titlePadding": 6.5, "titleFont": "Liberation Sans", "titleFontSize": 12.5, "titleFontWeight": "normal", "titleColor": "#111111", "labelFont": "Liberation Sans", "labelFontSize": 12.5, "labelColor": "#111111"}}
}
},
{
"data": {"name": "nodes"},
"mark": {"type": "point", "opacity": 0, "size": 676},
"encoding": {
"x": {"field": "col", "type": "nominal", "scale": {"domain": ["1","2","3","4a","4b","5","6","7a","7b","8","9","10","11","12","13","14","15","16","17","18","19","20","21"], "paddingInner": 0, "paddingOuter": 0},
"axis": {"orient": "top", "title": "Patient No.", "titleFont": "Liberation Sans", "titleFontSize": 12.5, "titleFontWeight": "normal", "titleColor": "#111111", "titleAngle": 0, "titleAlign": "left", "titleBaseline": "middle", "titleX": -85, "titleY": -17, "labelAngle": 0, "labelFont": "Liberation Sans", "labelFontSize": 12.5, "labelColor": "#111111", "labelPadding": 10, "ticks": false, "tickSize": 0, "domain": false,
"labelExpr": "datum.value === '4a' ? '4' : datum.value === '7a' ? '7' : (datum.value === '4b' || datum.value === '7b') ? '' : datum.value",
"labelOffset": {"condition": {"test": "datum.value === '4a' || datum.value === '7a'", "value": 19.6}, "value": 0}}},
"y": {"field": "n", "type": "quantitative", "scale": {"domain": [0.46, 32.99], "reverse": true, "nice": false, "zero": false},
"axis": {"values": [5.4, 10.46, 15.28, 20.4, 25.45, 29.73], "labelExpr": "format(round(datum.value), 'd')", "domain": false, "tickSize": 23, "tickWidth": 1.5, "tickColor": "#111111", "labelAlign": "right", "labelBaseline": "bottom", "labelPadding": -8, "labelOffset": -3, "labelFont": "Liberation Sans", "labelFontSize": 12.5, "labelColor": "#111111", "title": ["Lymph", "number"], "titleAngle": 0, "titleAlign": "left", "titleBaseline": "top", "titleX": -78, "titleY": 11, "titleFont": "Liberation Sans", "titleFontWeight": "normal", "titleFontSize": 12.5, "titleColor": "#111111", "titleLineHeight": 17}},
"fill": {"field": "fl", "type": "nominal", "scale": {"domain": ["Yes", "No"], "range": ["#111111", "transparent"]},
"legend": {"title": "Fluorescence", "orient": "none", "legendX": -175, "legendY": 369, "padding": 0, "symbolType": "M-1.111,0A1.111,0.62 0 1,1 1.111,0A1.111,0.62 0 1,1 -1.111,0Z", "symbolSize": 548, "symbolStrokeWidth": 2.2, "symbolStrokeColor": "#111111", "symbolOpacity": 1, "symbolOffset": 65, "labelOffset": -73, "rowPadding": 0, "titlePadding": 6, "titleFont": "Liberation Sans", "titleFontSize": 12.5, "titleFontWeight": "normal", "titleColor": "#111111", "labelFont": "Liberation Sans", "labelFontSize": 12.5, "labelColor": "#111111"}}
}
}
],
"resolve": {"scale": {"fill": "independent"}}
}
